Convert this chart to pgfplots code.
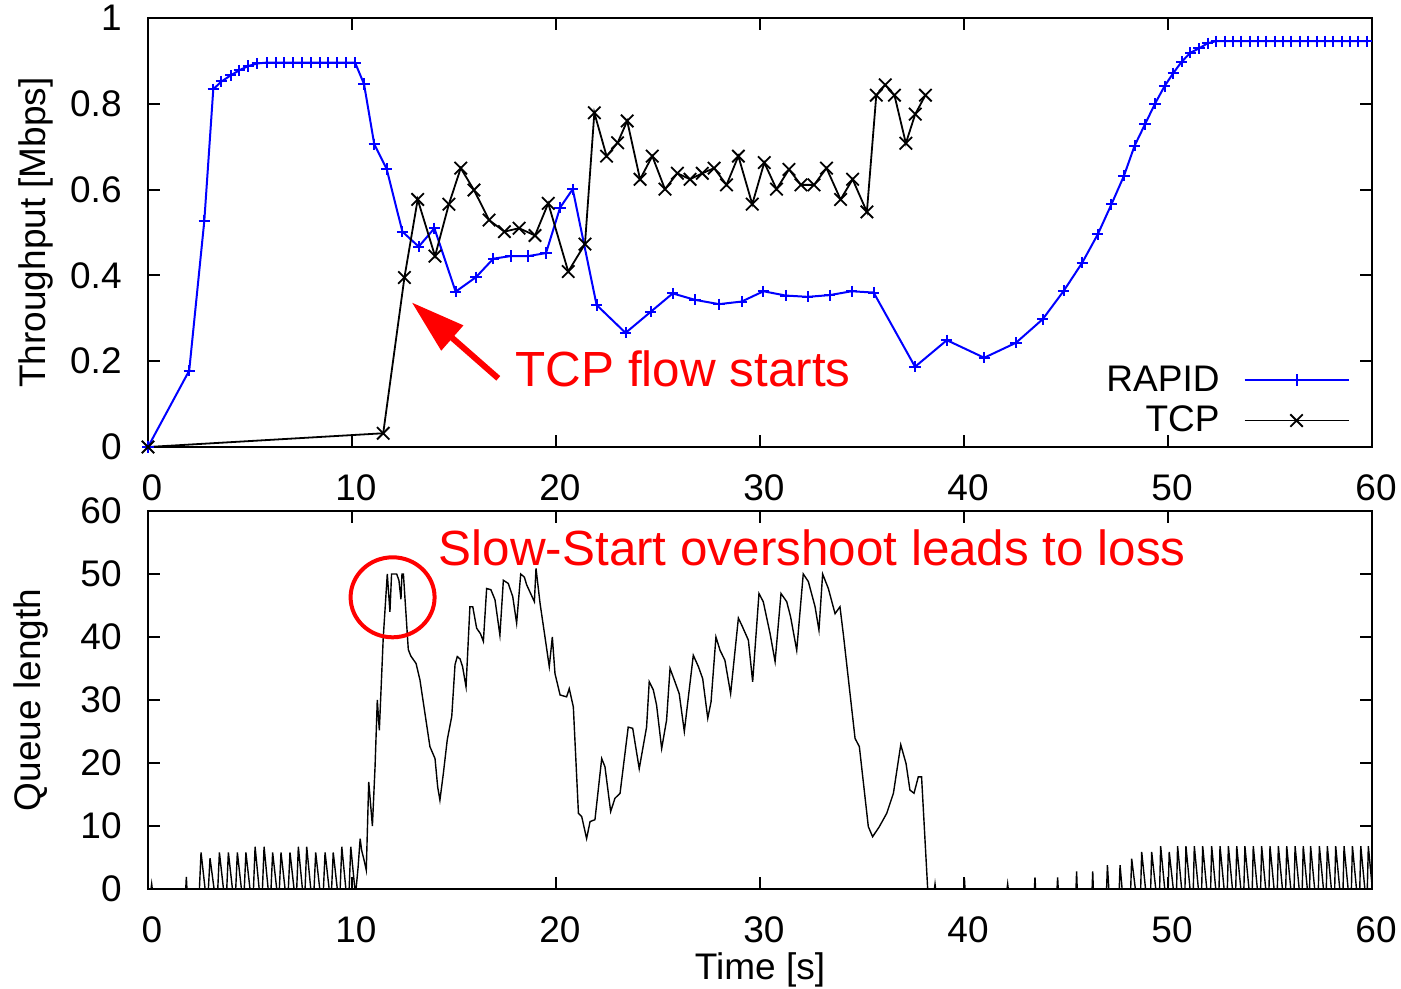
\documentclass[border=0pt]{standalone}
\usepackage{fontspec}
\setmainfont{Liberation Sans}
\usepackage{pgfplots}
\pgfplotsset{compat=1.18}
\usetikzlibrary{arrows.meta}
\newcommand{\tfont}{\fontsize{18.5bp}{22bp}\selectfont}
\newcommand{\rfont}{\fontsize{24.7bp}{29bp}\selectfont}
\pgfplotsset{
  myax/.style={
    scale only axis, width=612bp, xmin=0, xmax=60, xtick={0,10,...,60},
    axis line style={line width=1.3bp}, tick style={line width=1bp, black},
    major tick length=6bp, tick align=inside, xtick pos=both, ytick pos=both,
    /pgf/number format/assume math mode=true,
    tick label style={font=\tfont, inner sep=0pt},
    xticklabel style={xshift=2bp},
    xticklabel shift=13.5bp, yticklabel shift=13bp,
    clip=false,
  }
}
\begin{document}
\begin{tikzpicture}
\useasboundingbox (0bp,0bp) rectangle (700.5bp,494.5bp);
% ---------- top axis ----------
\begin{axis}[myax, at={(74bp,271bp)}, anchor=south west, height=214.5bp,
  ymin=0, ymax=1, ytick={0,0.2,0.4,0.6,0.8,1},
  ylabel={Throughput [Mbps]},
  every axis y label/.style={at={(axis description cs:-0.0915,0.5)}, rotate=90, anchor=center, font=\tfont},
  legend plot pos=right, legend cell align=right,
  legend style={draw=none, fill=none, inner sep=0pt, outer sep=0pt, row sep=6bp, column sep=12bp,
    font=\tfont, at={(axis cs:58.9,0.028)}, anchor=south east, nodes={inner sep=0pt}},
  legend image code/.code={\draw[mark repeat=2,mark phase=2,#1] plot coordinates {(0bp,0bp) (26bp,0bp) (52bp,0bp)};},
]
\addplot[blue, line width=1bp, mark=+, mark size=2.8bp] coordinates {
(0,0) (2.02,0.178) (2.76,0.527) (3.2,0.834) (3.6,0.852) (4.05,0.866) (4.47,0.878) (4.91,0.888)
(5.36,0.894) (5.81,0.896) (6.25,0.896) (6.68,0.896) (7.12,0.896) (7.56,0.896) (7.99,0.896)
(8.43,0.896) (8.84,0.896) (9.28,0.896) (9.71,0.896) (10.15,0.896) (10.59,0.846) (11.09,0.706)
(11.7,0.648) (12.47,0.502) (13.27,0.467) (14.04,0.51) (15.08,0.362) (16.08,0.396) (16.93,0.439)
(17.78,0.445) (18.64,0.445) (19.51,0.452) (20.2,0.558) (20.82,0.601) (21.99,0.331) (23.41,0.266)
(24.64,0.315) (25.72,0.358) (26.81,0.343) (27.99,0.333) (29.1,0.339) (30.17,0.363) (31.26,0.353)
(32.34,0.350) (33.41,0.354) (34.49,0.363) (35.57,0.36) (37.6,0.187) (39.16,0.249) (40.99,0.208)
(42.55,0.243) (43.86,0.298) (44.89,0.364) (45.8,0.43) (46.56,0.496) (47.23,0.566) (47.84,0.632)
(48.36,0.702) (48.87,0.752) (49.36,0.8) (49.83,0.841) (50.25,0.871) (50.67,0.898) (51.1,0.919)
(51.52,0.929) (51.94,0.941) (52.36,0.946) (52.77,0.946) (53.18,0.946) (53.59,0.946) (54.0,0.946)
(54.41,0.946) (54.82,0.946) (55.23,0.946) (55.64,0.946) (56.05,0.946) (56.46,0.946) (56.87,0.946)
(57.28,0.946) (57.69,0.946) (58.1,0.946) (58.51,0.946) (58.92,0.946) (59.33,0.946) (59.74,0.946)
};
\addlegendentry{RAPID}
\addplot[black, line width=0.9bp, mark=x, mark size=4.4bp] coordinates {
(0,0) (11.53,0.032) (12.57,0.395) (13.22,0.577) (14.07,0.445) (14.75,0.566) (15.33,0.65)
(15.98,0.599) (16.72,0.529) (17.47,0.502) (18.19,0.51) (18.97,0.493) (19.62,0.568) (20.6,0.409)
(21.42,0.473) (21.88,0.779) (22.48,0.678) (23.02,0.709) (23.49,0.76) (24.12,0.624) (24.72,0.678)
(25.34,0.601) (25.95,0.638) (26.57,0.624) (27.17,0.638) (27.75,0.65) (28.36,0.611) (28.94,0.678)
(29.62,0.566) (30.21,0.663) (30.81,0.601) (31.42,0.647) (32.01,0.611) (32.65,0.611) (33.26,0.65)
(33.95,0.577) (34.54,0.624) (35.24,0.548) (35.7,0.82) (36.14,0.844) (36.59,0.82) (37.15,0.708)
(37.61,0.776) (38.11,0.82)
};
\addlegendentry{TCP}
\draw[red, line width=3bp, -{Triangle[length=27bp,width=16bp]}] (axis cs:17.17,0.16) -- (axis cs:12.93,0.337);
\node[anchor=base west, text=red, font=\rfont, inner sep=0pt] at (axis cs:18.0,0.1406) {TCP flow starts};
\end{axis}
% ---------- bottom axis ----------
\begin{axis}[myax, at={(74bp,50bp)}, anchor=south west, height=189bp,
  ymin=0, ymax=60, ytick={0,10,...,60},
  ylabel={Queue length}, xlabel={Time [s]},
  every axis y label/.style={at={(axis description cs:-0.0955,0.5)}, rotate=90, anchor=center, font=\tfont},
  every axis x label/.style={at={(axis description cs:0.5,-0.214)}, anchor=center, font=\tfont},
]
\addplot[black, line width=0.7bp] coordinates {
(0,0) (0.15,0) (0.18,0.8) (0.21,0) (1.85,0) (1.88,1.9) (1.91,0)
(2.52,0) (2.6,5.8) (2.8,0) (2.96,0) (3.04,4.9) (3.24,0) (3.42,0) (3.5,5.8) (3.7,0)
(3.86,0) (3.94,5.8) (4.14,0) (4.30,0) (4.38,5.8) (4.58,0) (4.72,0) (4.8,5.8) (5.0,0)
(5.17,0) (5.25,6.7) (5.45,0) (5.61,0) (5.69,6.7) (5.89,0) (6.03,0) (6.11,5.8) (6.31,0)
(6.44,0) (6.52,5.8) (6.72,0) (6.88,0) (6.96,5.8) (7.16,0) (7.29,0) (7.37,6.7) (7.57,0)
(7.70,0) (7.78,6.7) (7.98,0) (8.14,0) (8.22,5.8) (8.42,0) (8.60,0) (8.68,5.8) (8.88,0)
(9.00,0) (9.08,5.8) (9.28,0) (9.42,0) (9.5,6.7) (9.70,0) (9.86,0) (9.94,6.7) (10.14,0)
(10.2,0) (10.3,3.5) (10.4,8) (10.47,6.2) (10.59,4.6) (10.7,3) (10.82,17) (11.0,10) (11.13,19.4)
(11.24,30) (11.34,25.2) (11.53,39.8) (11.73,50) (11.86,44) (11.94,50) (12.19,50) (12.3,49)
(12.4,46) (12.45,50) (12.52,50) (12.76,38) (12.88,37) (13.14,35.8) (13.33,33.2) (13.82,22.6)
(14.07,20.7) (14.2,16.2) (14.31,14.1) (14.48,18.4) (14.67,23.7) (14.89,27.4) (15.05,35.6)
(15.16,36.9) (15.3,36.5) (15.42,35.3) (15.59,32.1) (15.78,44.8) (15.92,44.8) (16.11,41.4)
(16.3,40.5) (16.44,39.3) (16.6,47.7) (16.81,47.5) (17.01,45.9) (17.25,40.3) (17.42,49.0)
(17.66,48.5) (17.88,46.4) (18.07,42.2) (18.27,50) (18.45,49.5) (18.56,48.3) (18.94,45.6)
(19.02,50.9) (19.22,45.3) (19.46,40.0) (19.67,35.3) (19.82,40.0) (19.95,34.2) (20.2,30.8)
(20.52,30.5) (20.65,31.8) (20.85,28.9) (21.1,12.0) (21.26,11.5) (21.5,8.0) (21.67,10.7)
(21.91,11.0) (22.24,20.7) (22.4,19.4) (22.68,12.3) (22.89,14.4) (23.14,15.2) (23.54,25.7)
(23.76,25.5) (24.08,19.1) (24.44,25.7) (24.57,32.9) (24.77,31.6) (24.93,29.2) (25.18,22.3)
(25.42,26.8) (25.59,35.0) (25.83,32.9) (26.04,31.0) (26.29,25.0) (26.73,37.1) (26.98,35.3)
(27.19,33.4) (27.44,27.1) (27.6,29.7) (27.84,40.0) (28.04,37.9) (28.28,36.3) (28.56,31.0)
(28.94,43.0) (29.13,41.7) (29.43,39.5) (29.64,32.9) (29.95,46.9) (30.16,45.6) (30.49,40.6)
(30.74,36.1) (31.03,46.9) (31.31,45.6) (31.5,43.2) (31.8,37.9) (32.12,50.0) (32.37,48.8)
(32.7,44.8) (32.89,41.1) (33.07,50.0) (33.35,47.7) (33.68,43.7) (33.92,44.8) (34.09,40.3)
(34.66,23.9) (34.87,22.6) (35.31,9.9) (35.52,8.3) (35.85,9.9) (36.21,12.0) (36.54,15.2)
(36.9,22.9) (37.16,19.9) (37.35,15.7) (37.55,15.2) (37.76,17.8) (37.92,17.8) (38.22,0)
(38.55,0) (38.58,0.8) (38.61,0) (39.99,0) (40.02,1.7) (40.05,0) (42.11,0) (42.14,0.8) (42.17,0)
(43.45,0) (43.48,1.85) (43.51,0) (44.56,0) (44.59,1.85) (44.62,0) (45.49,0) (45.52,2.8) (45.55,0)
(46.28,0) (46.31,2.8) (46.34,0) (46.99,0) (47.03,3.8) (47.1,0) (47.61,0) (47.65,3.8) (47.75,0)
(48.17,0) (48.22,4.8) (48.4,0) (48.66,0) (48.71,5.9) (48.9,0) (49.15,0) (49.2,5.9) (49.4,0)
(49.59,0) (49.64,6.8) (49.84,0) (50.01,0) (50.06,5.9) (50.26,0) (50.42,0) (50.47,6.8) (50.67,0)
(50.83,0) (50.88,6.8) (51.08,0) (51.24,0) (51.29,6.8) (51.49,0) (51.65,0) (51.7,6.8) (51.9,0)
(52.09,0) (52.14,6.8) (52.34,0) (52.5,0) (52.55,6.8) (52.75,0) (52.91,0) (52.96,6.8) (53.16,0)
(53.32,0) (53.37,6.8) (53.57,0) (53.72,0) (53.77,6.8) (53.97,0) (54.13,0) (54.18,6.8) (54.38,0)
(54.54,0) (54.59,6.8) (54.79,0) (54.95,0) (55.0,6.8) (55.2,0) (55.36,0) (55.41,6.8) (55.61,0)
(55.77,0) (55.82,6.8) (56.02,0) (56.18,0) (56.23,6.8) (56.43,0) (56.58,0) (56.63,6.8) (56.83,0)
(56.94,0) (56.99,6.8) (57.19,0) (57.37,0) (57.42,6.8) (57.62,0) (57.76,0) (57.81,6.8) (58.01,0)
(58.17,0) (58.22,6.8) (58.42,0) (58.58,0) (58.63,6.8) (58.83,0) (58.99,0) (59.04,6.8) (59.24,0)
(59.4,0) (59.45,6.8) (59.65,0) (59.77,0) (59.82,6.8) (60,0.6)
};
\draw[red, line width=2bp] (axis cs:11.99,46.3) ellipse [x radius=21bp, y radius=20bp];
\node[anchor=base west, text=red, font=\rfont, inner sep=0pt] at (axis cs:14.24,51.3) {Slow-Start overshoot leads to loss};
\end{axis}
\end{tikzpicture}
\end{document}
